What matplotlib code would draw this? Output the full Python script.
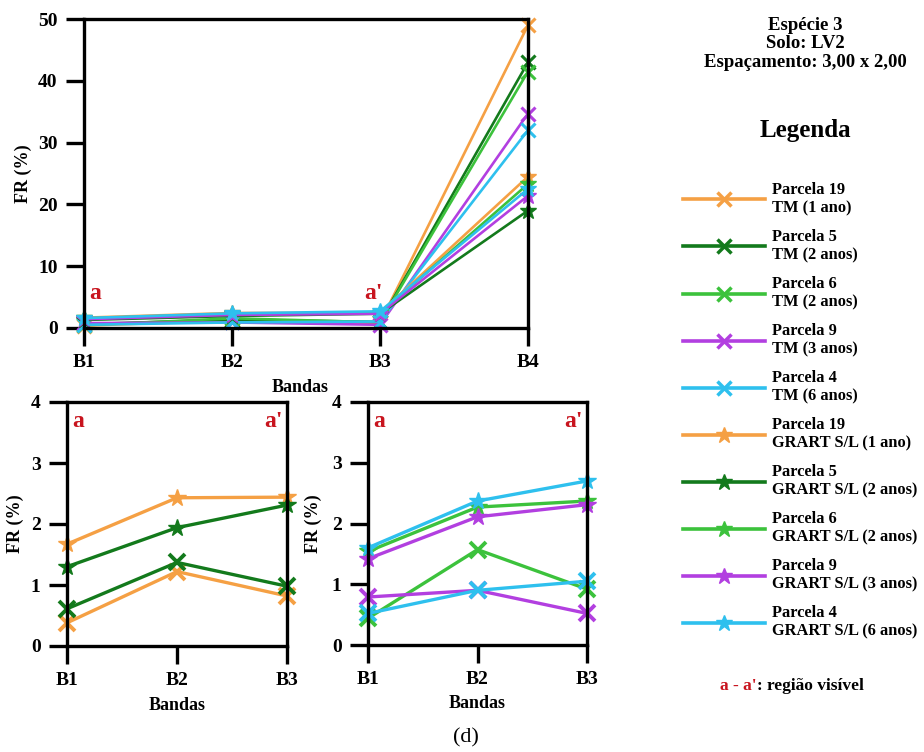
##################################
# Reflectance (FR %) by band - Especie 3

import matplotlib
matplotlib.use('Agg')
import matplotlib.pyplot as plt
from matplotlib.lines import Line2D

##################################
# Data

bands_all = ['B1', 'B2', 'B3', 'B4']
bands_vis = ['B1', 'B2', 'B3']

parcels = ['Parcela 19', 'Parcela 5', 'Parcela 6', 'Parcela 9', 'Parcela 4']
tm_ages = ['TM (1 ano)', 'TM (2 anos)', 'TM (2 anos)', 'TM (3 anos)', 'TM (6 anos)']
gr_ages = ['GRART S/L (1 ano)', 'GRART S/L (2 anos)', 'GRART S/L (2 anos)',
           'GRART S/L (3 anos)', 'GRART S/L (6 anos)']
colors = ['#f5a044', '#137a1c', '#3cc23c', '#b23fe0', '#2ec0ee']

# TM series (B1..B4)
p19_tm = [0.38, 1.22, 0.82, 49.0]
p5_tm = [0.61, 1.37, 0.98, 43.0]
p6_tm = [0.44, 1.57, 0.92, 41.5]
p9_tm = [0.79, 0.90, 0.52, 34.7]
p4_tm = [0.52, 0.90, 1.05, 32.0]

# GRART S/L series (B1..B4)
p19_gr = [1.67, 2.43, 2.44, 24.5]
p5_gr = [1.30, 1.94, 2.31, 19.0]
p6_gr = [1.54, 2.27, 2.37, 23.3]
p9_gr = [1.42, 2.11, 2.31, 21.4]
p4_gr = [1.60, 2.37, 2.70, 22.5]

tm_series = [p19_tm, p5_tm, p6_tm, p9_tm, p4_tm]
gr_series = [p19_gr, p5_gr, p6_gr, p9_gr, p4_gr]

# which parcels go in each zoomed panel
left_idx = [0, 1]
right_idx = [2, 3, 4]

red = '#c8141e'

##################################
# Figure

plt.rcParams['font.family'] = ['Liberation Serif', 'DejaVu Serif']
plt.rcParams['font.weight'] = 'bold'

W, H = 924, 752
fig = plt.figure(figsize=(W / 100, H / 100), dpi=100)


def px_axes(l, t, r, b):
    return fig.add_axes([l / W, 1 - b / H, (r - l) / W, (b - t) / H])


def style(ax):
    for s in ax.spines.values():
        s.set_linewidth(2.4)
    ax.tick_params(axis='both', direction='out', length=13, width=2.4,
                   labelsize=14, pad=6)
    for lab in ax.get_xticklabels() + ax.get_yticklabels():
        lab.set_fontweight('bold')


# Main plot
ax = px_axes(84, 19, 528, 328)
x4 = list(range(len(bands_all)))
for vals, c in zip(tm_series, colors):
    ax.plot(x4, vals, color=c, lw=1.9, marker='x', ms=10, mew=2.2, clip_on=False)
for vals, c in zip(gr_series, colors):
    ax.plot(x4, vals, color=c, lw=1.9, marker='*', ms=12, clip_on=False)
ax.set_xlim(0, 3)
ax.set_ylim(0, 50)
ax.set_xticks(x4)
ax.set_xticklabels(bands_all)
ax.set_yticks([0, 10, 20, 30, 40, 50])
style(ax)
ax.set_ylabel('FR (%)', fontsize=13, fontweight='bold', va='center')
ax.yaxis.set_label_coords(-0.137, 0.5)
ax.set_xlabel('Bandas', fontsize=13, fontweight='bold', va='center')
ax.xaxis.set_label_coords(0.487, -0.191)
ax.text(0.025, 0.113, 'a', color=red, fontsize=17, fontweight='bold',
        transform=ax.transAxes, ha='center', va='center')
ax.text(0.651, 0.113, "a'", color=red, fontsize=17, fontweight='bold',
        transform=ax.transAxes, ha='center', va='center')

# Zoomed panels (visible region a - a')
x3 = list(range(len(bands_vis)))
for box, idx, ylx in [((67, 402, 287, 646), left_idx, -0.236),
                      ((368, 402, 587, 645), right_idx, -0.251)]:
    bx = px_axes(*box)
    for i in idx:
        bx.plot(x3, tm_series[i][:3], color=colors[i], lw=2.4, marker='x',
                ms=11, mew=2.8, clip_on=False)
        bx.plot(x3, gr_series[i][:3], color=colors[i], lw=2.4, marker='*',
                ms=13, clip_on=False)
    bx.set_xlim(0, 2)
    bx.set_ylim(0, 4)
    bx.set_xticks(x3)
    bx.set_xticklabels(bands_vis)
    bx.set_yticks([0, 1, 2, 3, 4])
    style(bx)
    bx.set_ylabel('FR (%)', fontsize=13, fontweight='bold', va='center')
    bx.yaxis.set_label_coords(ylx, 0.5)
    bx.set_xlabel('Bandas', fontsize=13, fontweight='bold', va='center')
    bx.xaxis.set_label_coords(0.5, -0.242)
    bx.text(0.05, 0.92, 'a', color=red, fontsize=17, fontweight='bold',
            transform=bx.transAxes, ha='center', va='center')
    bx.text(0.94, 0.92, "a'", color=red, fontsize=17, fontweight='bold',
            transform=bx.transAxes, ha='center', va='center')

# Header and legend
fig.text(805 / W, 1 - 44 / H, 'Espécie 3\nSolo: LV2\nEspaçamento: 3,00 x 2,00',
         ha='center', va='center', fontsize=13.5, fontweight='bold',
         linespacing=1.15)
fig.text(805 / W, 1 - 131 / H, 'Legenda', ha='center', va='center',
         fontsize=18, fontweight='bold')

handles = []
labels = []
for p, a, c in zip(parcels, tm_ages, colors):
    handles.append(Line2D([], [], color=c, lw=2.6, marker='x', ms=10, mew=2.5))
    labels.append(p + '\n' + a)
for p, a, c in zip(parcels, gr_ages, colors):
    handles.append(Line2D([], [], color=c, lw=2.6, marker='*', ms=12))
    labels.append(p + '\n' + a)
fig.legend(handles, labels, loc='upper left', bbox_to_anchor=(683 / W, 1 - 182 / H),
           frameon=False, fontsize=11.8, handlelength=5.0, handletextpad=0.4,
           labelspacing=0.77, borderpad=0, borderaxespad=0)

fig.text(757 / W, 1 - 686 / H, "a - a'", color=red, ha='right', va='center',
         fontsize=12.5, fontweight='bold')
fig.text(757 / W, 1 - 686 / H, ': região visível', color='black', ha='left',
         va='center', fontsize=12.5, fontweight='bold')

fig.text(466 / W, 1 - 738 / H, '(d)', ha='center', va='center', fontsize=16,
         fontweight='normal')

plt.savefig('out.png', dpi=100)
